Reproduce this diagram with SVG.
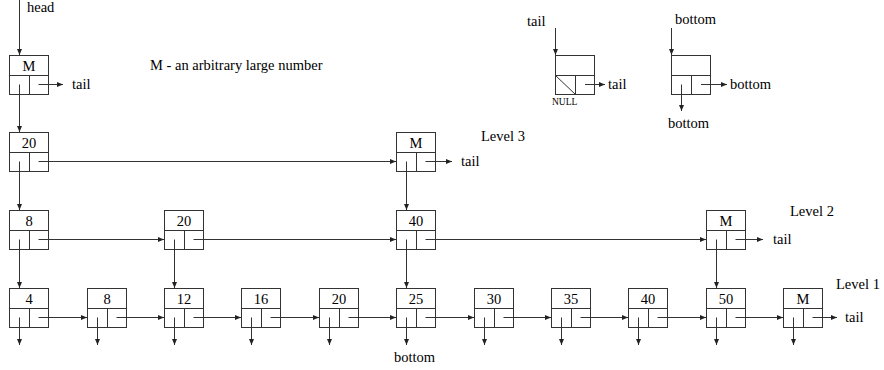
<svg xmlns="http://www.w3.org/2000/svg" width="884" height="370" viewBox="0 0 884 370">
<defs>
<marker id="ah" markerUnits="userSpaceOnUse" markerWidth="7" markerHeight="6" refX="6" refY="2.5" orient="auto">
<path d="M0,0 L6,2.5 L0,5 z" fill="#222"/>
</marker>
<style>
.cell{fill:none;stroke:#333;stroke-width:1}
text{font-family:"Liberation Serif","Times New Roman",serif;font-size:14.5px;fill:#000}
.lbl{text-anchor:middle}
.small{font-size:9.5px}
#connectors path{fill:none;stroke:#333;stroke-width:1;marker-end:url(#ah)}
</style>
<g id="nodebody" fill="none" stroke="#333" stroke-width="1">
<rect x="0.5" y="0.5" width="39" height="39"/>
<line x1="0.5" y1="20.5" x2="39.5" y2="20.5"/>
<line x1="20.5" y1="20.5" x2="20.5" y2="39.5"/>
</g>
</defs>
<rect width="884" height="370" fill="#fff"/>

<!-- nodes -->
<g id="n-head-M" transform="translate(9,55)"><use href="#nodebody"/><text class="lbl" x="20" y="15.5">M</text></g>

<g id="n-l3-20" transform="translate(9,132)"><use href="#nodebody"/><text class="lbl" x="20" y="15.5">20</text></g>
<g id="n-l3-M" transform="translate(396,132)"><use href="#nodebody"/><text class="lbl" x="20" y="15.5">M</text></g>

<g id="n-l2-8" transform="translate(9,210)"><use href="#nodebody"/><text class="lbl" x="20" y="15.5">8</text></g>
<g id="n-l2-20" transform="translate(164,210)"><use href="#nodebody"/><text class="lbl" x="20" y="15.5">20</text></g>
<g id="n-l2-40" transform="translate(396,210)"><use href="#nodebody"/><text class="lbl" x="20" y="15.5">40</text></g>
<g id="n-l2-M" transform="translate(706,210)"><use href="#nodebody"/><text class="lbl" x="20" y="15.5">M</text></g>

<g id="n-l1-4" transform="translate(9,288)"><use href="#nodebody"/><text class="lbl" x="20" y="15.5">4</text></g>
<g id="n-l1-8" transform="translate(87,288)"><use href="#nodebody"/><text class="lbl" x="20" y="15.5">8</text></g>
<g id="n-l1-12" transform="translate(164,288)"><use href="#nodebody"/><text class="lbl" x="20" y="15.5">12</text></g>
<g id="n-l1-16" transform="translate(241,288)"><use href="#nodebody"/><text class="lbl" x="20" y="15.5">16</text></g>
<g id="n-l1-20" transform="translate(319,288)"><use href="#nodebody"/><text class="lbl" x="20" y="15.5">20</text></g>
<g id="n-l1-25" transform="translate(396,288)"><use href="#nodebody"/><text class="lbl" x="20" y="15.5">25</text></g>
<g id="n-l1-30" transform="translate(474,288)"><use href="#nodebody"/><text class="lbl" x="20" y="15.5">30</text></g>
<g id="n-l1-35" transform="translate(551,288)"><use href="#nodebody"/><text class="lbl" x="20" y="15.5">35</text></g>
<g id="n-l1-40" transform="translate(628,288)"><use href="#nodebody"/><text class="lbl" x="20" y="15.5">40</text></g>
<g id="n-l1-50" transform="translate(706,288)"><use href="#nodebody"/><text class="lbl" x="20" y="15.5">50</text></g>
<g id="n-l1-M" transform="translate(783,288)"><use href="#nodebody"/><text class="lbl" x="20" y="15.5">M</text></g>

<!-- legend nodes -->
<g id="legend-tail" transform="translate(555,55)">
<use href="#nodebody"/>
<line class="cell" x1="0.5" y1="20.5" x2="20.5" y2="39.5"/>
</g>
<g id="legend-bottom" transform="translate(671,55)"><use href="#nodebody"/></g>

<!-- connectors -->
<g id="connectors">
<path d="M19.5,0 V55"/>
<path d="M38.5,84.5 H63"/>
<path d="M19.5,84.5 V132"/>
<path d="M38.5,161.5 H396"/>
<path d="M425.5,161.5 H452"/>
<path d="M19.5,161.5 V210"/>
<path d="M406.5,161.5 V210"/>
<path d="M38.5,239.5 H164"/>
<path d="M193.5,239.5 H396"/>
<path d="M425.5,239.5 H706"/>
<path d="M735.5,239.5 H763"/>
<path d="M19.5,239.5 V288"/>
<path d="M174.5,239.5 V288"/>
<path d="M406.5,239.5 V288"/>
<path d="M716.5,239.5 V288"/>
<path d="M38.5,317.5 H87"/>
<path d="M116.5,317.5 H164"/>
<path d="M193.5,317.5 H241"/>
<path d="M270.5,317.5 H319"/>
<path d="M348.5,317.5 H396"/>
<path d="M425.5,317.5 H474"/>
<path d="M503.5,317.5 H551"/>
<path d="M580.5,317.5 H628"/>
<path d="M657.5,317.5 H706"/>
<path d="M735.5,317.5 H783"/>
<path d="M812.5,317.5 H837"/>
<path d="M19.5,317.5 V345"/>
<path d="M97.5,317.5 V345"/>
<path d="M174.5,317.5 V345"/>
<path d="M251.5,317.5 V345"/>
<path d="M329.5,317.5 V345"/>
<path d="M406.5,317.5 V345"/>
<path d="M484.5,317.5 V345"/>
<path d="M561.5,317.5 V345"/>
<path d="M638.5,317.5 V345"/>
<path d="M716.5,317.5 V345"/>
<path d="M793.5,317.5 V345"/>
<!-- legend connectors -->
<path d="M555.5,28 V55"/>
<path d="M585,84.5 H605"/>
<path d="M671.5,28 V55"/>
<path d="M681.5,84.5 V111"/>
<path d="M701,84.5 H727"/>
</g>

<!-- labels -->
<text x="27" y="12">head</text>
<text x="150" y="70">M - an arbitrary large number</text>
<text x="72" y="89">tail</text>
<text x="481" y="141">Level 3</text>
<text x="461" y="166">tail</text>
<text x="790" y="216">Level 2</text>
<text x="773" y="244">tail</text>
<text x="836" y="289">Level 1</text>
<text x="845" y="322">tail</text>
<text x="394" y="362">bottom</text>
<text x="527" y="26">tail</text>
<text x="608" y="89">tail</text>
<text class="small" x="552" y="105">NULL</text>
<text x="675" y="24">bottom</text>
<text x="730" y="89">bottom</text>
<text x="668" y="128">bottom</text>
</svg>
